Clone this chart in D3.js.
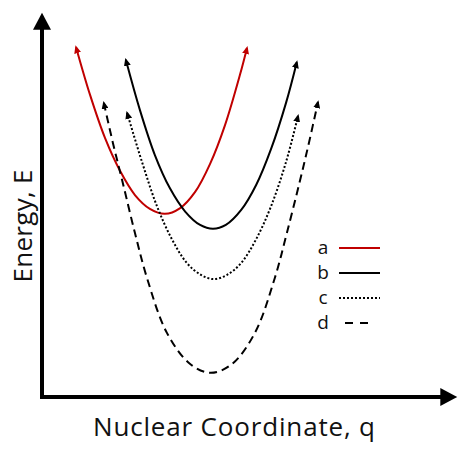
<!DOCTYPE html>
<html lang="en">
<head>
  <meta charset="UTF-8">
  <title>Potential energy curves</title>
  <script src="https://d3js.org/d3.v7.min.js"></script>
  <style>
    body { margin: 0; background: #fff; }
    text { font-family: "Open Sans", Lato, sans-serif; fill: #111; }
  </style>
</head>
<body>
  <svg id="chart"></svg>
  <script>
    // curve points: [q, E]
    const curveA = [[0.82, 9.11], [1.16, 7.86], [1.52, 6.74], [1.88, 5.89], [2.24, 5.26], [2.60, 4.90],
      [2.96, 4.77], [3.33, 4.92], [3.69, 5.34], [4.05, 6.07], [4.41, 7.08], [4.77, 8.39], [4.94, 9.09]];
    const curveB = [[2.02, 8.78], [2.36, 7.47], [2.72, 6.30], [3.08, 5.44], [3.45, 4.83], [3.81, 4.48],
      [4.12, 4.38], [4.43, 4.48], [4.80, 4.87], [5.16, 5.52], [5.52, 6.46], [5.88, 7.66], [6.14, 8.72]];
    const curveC = [[2.05, 7.40], [2.41, 6.12], [2.77, 4.97], [3.13, 4.11], [3.49, 3.49], [3.83, 3.18],
      [4.14, 3.07], [4.46, 3.18], [4.80, 3.49], [5.16, 4.11], [5.52, 4.97], [5.88, 6.12], [6.17, 7.32]];
    const curveD = [[1.49, 7.66], [1.71, 6.61], [1.93, 5.65], [2.24, 4.27], [2.53, 3.10], [3.01, 1.67],
      [3.57, 0.86], [4.07, 0.63], [4.58, 0.86], [5.13, 1.67], [5.61, 3.10], [5.90, 4.27], [6.22, 5.65],
      [6.43, 6.61], [6.65, 7.68]];
    const legendLabels = ["a", "b", "c", "d"];

    const width = 475;
    const height = 470;

    const svg = d3.select("#chart")
      .attr("width", width)
      .attr("height", height);

    const x = d3.scaleLinear().domain([0, 10]).range([42, 457]);
    const y = d3.scaleLinear().domain([0, 10]).range([397, 13]);

    const series = [
      { name: "a", pts: curveA, color: "#c00000", dash: null },
      { name: "b", pts: curveB, color: "#000", dash: null },
      { name: "c", pts: curveC, color: "#000", dash: "2,2" },
      { name: "d", pts: curveD, color: "#000", dash: "8,5" }
    ];

    const defs = svg.append("defs");

    // big axis arrow
    defs.append("marker")
      .attr("id", "axisArrow")
      .attr("markerUnits", "userSpaceOnUse")
      .attr("markerWidth", 18).attr("markerHeight", 18)
      .attr("viewBox", "0 0 16 17")
      .attr("refX", 12).attr("refY", 8.5)
      .attr("orient", "auto-start-reverse")
      .append("path")
      .attr("d", "M0,0L16,8.5L0,17Z")
      .attr("fill", "#000");

    // small curve arrows, one per colour
    series.forEach(s => {
      defs.append("marker")
        .attr("id", "arrow-" + s.name)
        .attr("markerUnits", "userSpaceOnUse")
        .attr("markerWidth", 8).attr("markerHeight", 7)
        .attr("viewBox", "0 0 8 7")
        .attr("refX", 6).attr("refY", 3.5)
        .attr("orient", "auto-start-reverse")
        .append("path")
        .attr("d", "M0,0L8,3.5L0,7Z")
        .attr("fill", s.color);
    });

    // axes as one L-shaped path, arrows at both ends
    const [x0, x1] = x.range();
    const [y0, y1] = y.range();
    svg.append("path")
      .attr("d", `M${x0},${y1 + 4}L${x0},${y0}L${x1 - 4},${y0}`)
      .attr("fill", "none")
      .attr("stroke", "#000")
      .attr("stroke-width", 4)
      .attr("stroke-linejoin", "miter")
      .attr("marker-start", "url(#axisArrow)")
      .attr("marker-end", "url(#axisArrow)");

    const line = d3.line()
      .x(d => x(d[0]))
      .y(d => y(d[1]))
      .curve(d3.curveCatmullRom);

    svg.selectAll("path.curve")
      .data(series)
      .enter()
      .append("path")
      .attr("class", "curve")
      .attr("d", d => line(d.pts))
      .attr("fill", "none")
      .attr("stroke", d => d.color)
      .attr("stroke-width", 2)
      .attr("stroke-dasharray", d => d.dash)
      .attr("marker-start", d => `url(#arrow-${d.name})`)
      .attr("marker-end", d => `url(#arrow-${d.name})`);

    // legend
    const rowY = d3.scalePoint().domain(legendLabels).range([248, 323]);
    const legend = svg.selectAll("g.legend")
      .data(series)
      .enter()
      .append("g")
      .attr("class", "legend")
      .attr("transform", d => `translate(0,${rowY(d.name)})`);

    legend.append("text")
      .attr("x", 323)
      .attr("y", 6)
      .attr("text-anchor", "middle")
      .attr("font-size", 19)
      .text(d => d.name);

    legend.append("line")
      .attr("x1", d => d.name === "d" ? 345 : 339)
      .attr("x2", d => d.name === "d" ? 368 : 380)
      .attr("y1", 0).attr("y2", 0)
      .attr("stroke", d => d.color)
      .attr("stroke-width", 2)
      .attr("stroke-dasharray", d => d.name === "d" ? "8,7" : d.dash);

    // axis titles
    svg.append("text")
      .attr("x", 234)
      .attr("y", 436)
      .attr("text-anchor", "middle")
      .attr("font-size", 26)
      .attr("textLength", 282)
      .attr("lengthAdjust", "spacing")
      .text("Nuclear Coordinate, q");

    svg.append("text")
      .attr("transform", "translate(32,226) rotate(-90)")
      .attr("text-anchor", "middle")
      .attr("font-size", 26)
      .attr("textLength", 113)
      .attr("lengthAdjust", "spacing")
      .text("Energy, E");
  </script>
</body>
</html>
